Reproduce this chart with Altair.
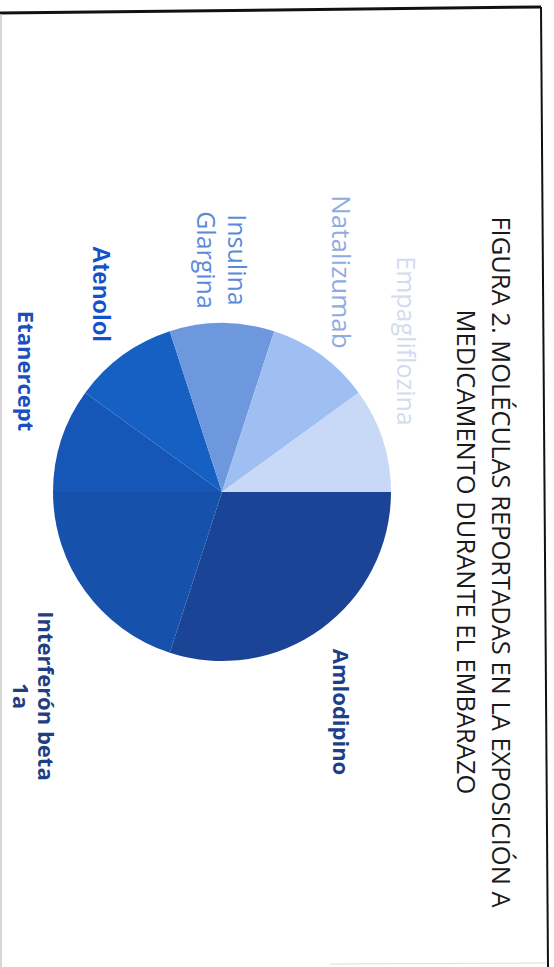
import math
import altair as alt
import pandas as pd

# ---- data ----
names = ["Amlodipino", "Interferón beta 1a", "Etanercept", "Atenolol",
         "Insulina Glargina", "Natalizumab", "Empagliflozina"]
counts = [3, 2, 1, 1, 1, 1, 1]
label_texts = ["Amlodipino", "Interferón beta\n1a", "Etanercept", "Atenolol",
               "Insulina\nGlargina", "Natalizumab", "Empagliflozina"]
title_lines = ["FIGURA 2. MOLÉCULAS REPORTADAS EN LA EXPOSICIÓN A",
               "MEDICAMENTO DURANTE EL EMBARAZO"]

# ---- styles ----
slice_colors = ["#1b4496", "#1651ab", "#1656b6", "#1660c3",
                "#6e98de", "#9fbff3", "#c8d9f8"]
label_colors = ["#1b3f8c", "#1f3f82", "#1a4fc0", "#1452cc",
                "#5b8ad8", "#90abe2", "#d3dbee"]

df = pd.DataFrame({"name": names, "count": counts,
                   "order": list(range(len(names))), "label": label_texts})

CX, CY, R = 222, 492, 169

pie = alt.Chart(df).mark_arc(outerRadius=R, strokeWidth=0).encode(
    theta=alt.Theta("count:Q", stack=True,
                    scale=alt.Scale(range=[math.pi / 2, math.pi / 2 + 2 * math.pi])),
    color=alt.Color("name:N", scale=alt.Scale(domain=names, range=slice_colors), legend=None),
    order=alt.Order("order:Q"),
    x=alt.value(CX), y=alt.value(CY),
)

# label placement (pixel anchor of first line, rotated 90° like the scanned page)
label_style = {
    "Amlodipino": dict(pos=(340, 712), size=22, weight="bold", font="Open Sans", lh=26),
    "Interferón beta 1a": dict(pos=(45, 696), size=22, weight="bold", font="Open Sans", lh=25),
    "Etanercept": dict(pos=(25, 371), size=22, weight="bold", font="Open Sans", lh=26),
    "Atenolol": dict(pos=(100, 294), size=24, weight="bold", font="Liberation Sans", lh=26),
    "Insulina Glargina": dict(pos=(236, 260), size=25, weight="normal", font="Open Sans", lh=31),
    "Natalizumab": dict(pos=(340, 272), size=26, weight="normal", font="Open Sans", lh=26),
    "Empagliflozina": dict(pos=(405, 341), size=25, weight="normal", font="Open Sans", lh=26),
}

labels = []
for n, c in zip(names, label_colors):
    s = label_style[n]
    labels.append(
        alt.Chart(df).transform_filter(alt.datum.name == n).mark_text(
            angle=90, align="center", baseline="middle", lineBreak="\n",
            lineHeight=s["lh"], fontSize=s["size"], fontWeight=s["weight"],
            font=s["font"], color=c,
        ).encode(text="label:N", x=alt.value(s["pos"][0]), y=alt.value(s["pos"][1]))
    )

tdf = pd.DataFrame({"line": title_lines, "i": [0, 1]})
title_pos = [(500, 562), (465, 552)]
titles = []
for i, (tx, ty) in enumerate(title_pos):
    titles.append(
        alt.Chart(tdf).transform_filter(alt.datum.i == i).mark_text(
            angle=90, align="center", baseline="middle", fontSize=25.5,
            font="Open Sans", color="#1a1a1a",
        ).encode(text="line:N", x=alt.value(tx), y=alt.value(ty))
    )

one = pd.DataFrame({"a": [0]})
frame = [
    alt.Chart(one).mark_rule(color="#111111", strokeWidth=3).encode(
        x=alt.value(0), y=alt.value(13), x2=alt.value(541), y2=alt.value(7)),
    alt.Chart(one).mark_rule(color="#111111", strokeWidth=2).encode(
        x=alt.value(541), y=alt.value(7), x2=alt.value(548), y2=alt.value(967)),
    alt.Chart(one).mark_rule(color="#c8c8c8", strokeWidth=1.5).encode(
        x=alt.value(1), y=alt.value(14), x2=alt.value(1), y2=alt.value(967)),
    alt.Chart(one).mark_rule(color="#dddddd", strokeWidth=1).encode(
        x=alt.value(330), y=alt.value(964), x2=alt.value(546), y2=alt.value(963)),
]

chart = alt.layer(pie, *labels, *titles, *frame).properties(
    width=554, height=967, autosize=alt.AutoSizeParams(type="none"), padding=0,
    background="white",
).configure_view(stroke=None)

chart.save("out.html", embed_options={"renderer": "svg", "actions": False})
